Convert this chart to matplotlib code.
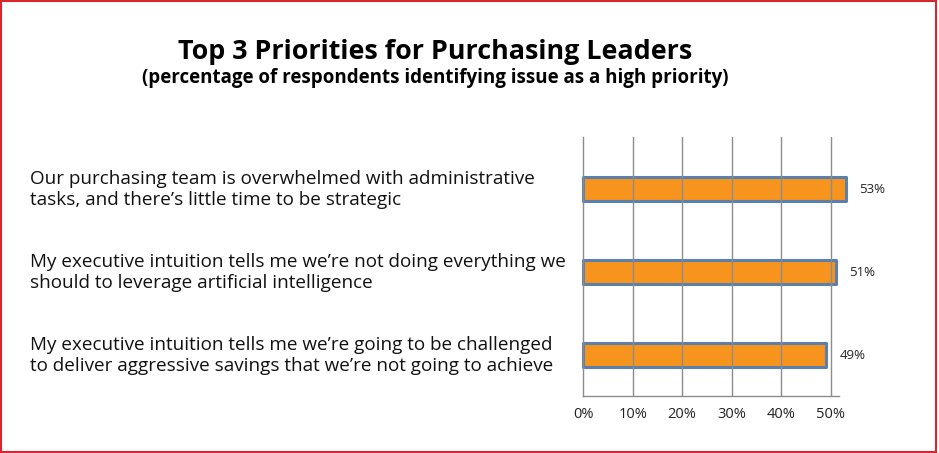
import matplotlib.pyplot as plt
from matplotlib.patches import Rectangle
from matplotlib.transforms import blended_transform_factory

plt.rcParams["font.family"] = ["Open Sans", "DejaVu Sans"]

# chart data
labels = [
    "Our purchasing team is overwhelmed with administrative\ntasks, and there\u2019s little time to be strategic",
    "My executive intuition tells me we\u2019re not doing everything we\nshould to leverage artificial intelligence",
    "My executive intuition tells me we\u2019re going to be challenged\nto deliver aggressive savings that we\u2019re not going to achieve",
]
values = [53, 51, 49]
ticks = [0, 10, 20, 30, 40, 50]
tick_labels = ["0%", "10%", "20%", "30%", "40%", "50%"]

title = "Top 3 Priorities for Purchasing Leaders"
subtitle = "(percentage of respondents identifying issue as a high priority)"

fig = plt.figure(figsize=(9.39, 4.53), dpi=100)
ax = fig.add_axes([0.621, 0.1258, 0.2726, 0.5717])

pos = list(range(len(values)))
ax.barh(pos, values, height=0.29, color="#f7941e", edgecolor="#5b80ad",
        linewidth=2.2, joinstyle="round", zorder=1, clip_on=False)

ax.set_xlim(0, 51.7)
ax.set_ylim(2.49, -0.63)
ax.set_xticks(ticks)
ax.set_xticklabels(tick_labels, fontsize=10.5, color="#222222")
ax.set_yticks([])
ax.tick_params(axis="x", length=0, pad=8)

for x in ticks[1:]:
    ax.axvline(x, color="#8c8c8c", linewidth=1, zorder=2)
for s in ["top", "right"]:
    ax.spines[s].set_visible(False)
for s in ["left", "bottom"]:
    ax.spines[s].set_color("#8c8c8c")
    ax.spines[s].set_linewidth(1)

for p, v in zip(pos, values):
    ax.annotate(f"{v}%", (v, p), xytext=(10, 0), textcoords="offset points",
                va="center", ha="left", fontsize=9.5, color="#222222",
                annotation_clip=False)

trans = blended_transform_factory(fig.transFigure, ax.transData)
for p, lab in zip(pos, labels):
    ax.text(0.032, p, lab, transform=trans, ha="left", va="center",
            fontsize=13.6, color="#111111", linespacing=1.18)

fig.text(0.463, 0.886, title, ha="center", va="center", fontsize=19.4,
         fontweight="bold", color="#000000")
fig.text(0.463, 0.828, subtitle, ha="center", va="center", fontsize=13.5,
         fontweight="bold", color="#000000")

fig.patches.append(Rectangle((0.001, 0.002), 0.996, 0.996, transform=fig.transFigure,
                             fill=False, edgecolor="#d9262c", linewidth=1.5))

fig.savefig("out.png", dpi=100)
